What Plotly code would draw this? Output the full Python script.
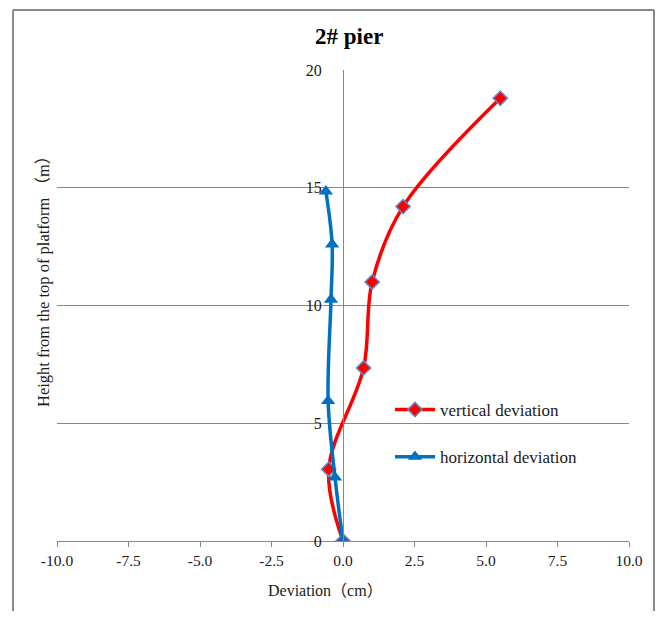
import plotly.graph_objects as go

# Data
vert_x = [0.0, -0.5, 0.72, 1.02, 2.1, 5.5]
vert_y = [0.0, 3.05, 7.35, 11.0, 14.2, 18.8]
horiz_x = [0.0, -0.28, -0.52, -0.42, -0.38, -0.6]
horiz_y = [0.0, 2.7, 5.95, 10.25, 12.6, 14.85]
series_names = ["vertical deviation", "horizontal deviation"]
x_ticks = [-10, -7.5, -5, -2.5, 0, 2.5, 5, 7.5, 10]
x_tick_labels = ["-10.0", "-7.5", "-5.0", "-2.5", "0.0", "2.5", "5.0", "7.5", "10.0"]
y_ticks = [0, 5, 10, 15, 20]

OFF = 8  # page body margin
W, H = 648, 603
L, R, T, B = 49, 27, 62, 70
pw, ph = W - L - R, H - T - B

def px_x(p):
    return (p - OFF - L) / pw

def px_y(p):
    return (H - B - (p - OFF)) / ph

FONT = "Liberation Serif, Noto Sans CJK SC"
GRID = "#878787"
TXT = "#1a1a1a"
BORDER = "#888888"

fig = go.Figure()
fig.add_trace(go.Scatter(
    x=vert_x, y=vert_y, name=series_names[0], mode="lines+markers",
    line=dict(color="#ff0000", width=3.5, shape="spline", smoothing=1.0),
    marker=dict(symbol="diamond", size=11, color="#ff0000",
                line=dict(color="#5b8fd0", width=1.5)),
    legendgroup="a",
))
fig.add_trace(go.Scatter(
    x=horiz_x, y=horiz_y, name=series_names[1], mode="lines+markers",
    line=dict(color="#0070c0", width=3.5, shape="spline", smoothing=1.0),
    marker=dict(symbol="triangle-up", size=12.5, color="#0070c0"),
    legendgroup="b",
))

bx0, bx1, by0, by1 = px_x(13), px_x(654), px_y(611), px_y(10)
border = [
    dict(type="line", xref="paper", yref="paper", x0=bx0, x1=bx0, y0=by0, y1=by1,
         line=dict(color=BORDER, width=2), layer="above"),
    dict(type="line", xref="paper", yref="paper", x0=bx1, x1=bx1, y0=by0, y1=by1,
         line=dict(color=BORDER, width=2), layer="above"),
    dict(type="line", xref="paper", yref="paper", x0=bx0, x1=bx1, y0=by1, y1=by1,
         line=dict(color=BORDER, width=2), layer="above"),
]

fig.update_layout(
    width=W, height=H,
    margin=dict(l=L, r=R, t=T, b=B),
    paper_bgcolor="white", plot_bgcolor="white",
    font=dict(family=FONT, size=16, color=TXT),
    showlegend=True,
    legend=dict(x=px_x(390), y=px_y(392), xanchor="left", yanchor="top",
                bgcolor="rgba(0,0,0,0)", font=dict(size=17, family=FONT, color=TXT),
                tracegroupgap=22, itemwidth=40),
    xaxis=dict(range=[-10, 10], tickvals=x_ticks, ticktext=x_tick_labels,
               showgrid=False, zeroline=False, showline=True, linecolor=GRID,
               linewidth=1.3, ticks="outside", ticklen=5, tickcolor=GRID,
               tickwidth=1.3, tickfont=dict(size=15.5, family=FONT, color=TXT)),
    yaxis=dict(range=[0, 20], tickvals=y_ticks, showgrid=True, gridcolor=GRID,
               gridwidth=1.3, zeroline=False, anchor="free", position=0.5,
               showline=True, linecolor=GRID, linewidth=1.3, ticks="",
               ticklabelstandoff=18,
               tickfont=dict(size=16, family=FONT, color=TXT)),
    annotations=[
        dict(text="<b>2# pier</b>", x=px_x(349), y=px_y(36), xref="paper", yref="paper",
             xanchor="center", yanchor="middle",
             showarrow=False, font=dict(size=23, family=FONT, color="#000")),
        dict(text="Deviation（cm）", x=px_x(325), y=px_y(590), xref="paper", yref="paper",
             xanchor="center", yanchor="middle",
             showarrow=False, font=dict(size=16, family=FONT, color=TXT)),
        dict(text="Height from the top of platform （m）", x=px_x(43), y=px_y(278),
             xref="paper", yref="paper", textangle=-90, xanchor="center", yanchor="middle",
             showarrow=False, font=dict(size=16.5, family=FONT, color=TXT)),
    ],
    shapes=border,
)

fig.write_html("out.html")
